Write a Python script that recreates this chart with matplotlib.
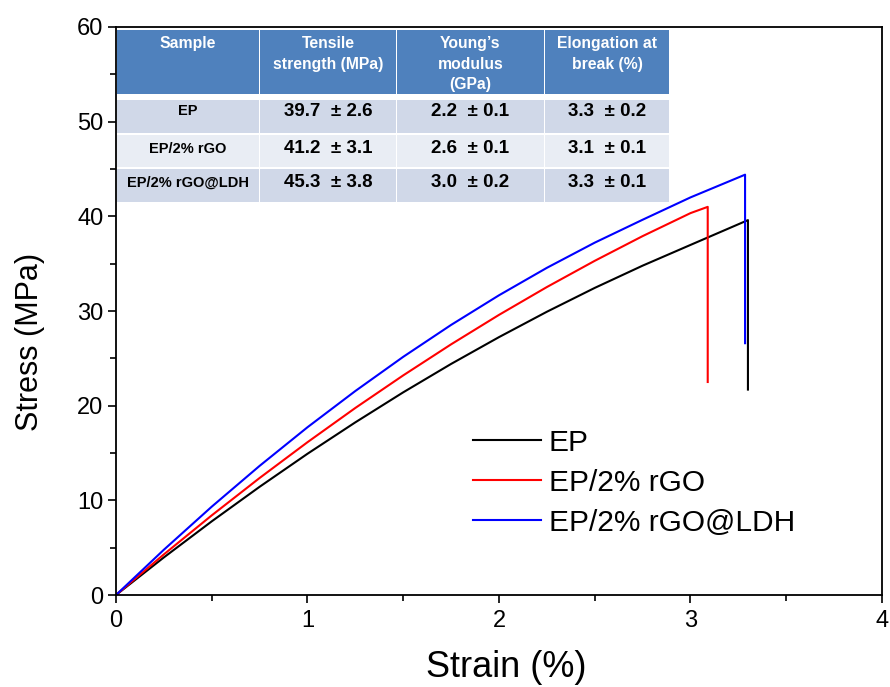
import matplotlib
matplotlib.use("Agg")
import matplotlib.pyplot as plt
from matplotlib.patches import Rectangle
from matplotlib.ticker import MultipleLocator

plt.rcParams["font.family"] = ["Liberation Sans", "DejaVu Sans"]

# stress-strain curves (strain %, stress MPa)
ep_strain = [0, 0.25, 0.5, 0.75, 1.0, 1.25, 1.5, 1.75, 2.0, 2.25, 2.5, 2.75, 3.0, 3.30, 3.30]
ep_stress = [0, 3.97, 7.78, 11.43, 14.92, 18.24, 21.41, 24.41, 27.24, 29.92, 32.44, 34.79, 36.98, 39.6, 21.7]

rgo_strain = [0, 0.25, 0.5, 0.75, 1.0, 1.25, 1.5, 1.75, 2.0, 2.25, 2.5, 2.75, 3.0, 3.09, 3.09]
rgo_stress = [0, 4.29, 8.41, 12.36, 16.14, 19.76, 23.20, 26.48, 29.59, 32.53, 35.30, 37.91, 40.34, 41.0, 22.5]

ldh_strain = [0, 0.25, 0.5, 0.75, 1.0, 1.25, 1.5, 1.75, 2.0, 2.25, 2.5, 2.75, 3.0, 3.285, 3.285]
ldh_stress = [0, 4.78, 9.33, 13.64, 17.72, 21.55, 25.16, 28.53, 31.66, 34.56, 37.22, 39.64, 42.0, 44.4, 26.6]

series_labels = ["EP", "EP/2% rGO", "EP/2% rGO@LDH"]
series_colors = ["black", "red", "blue"]

# inset table
table_header = ["Sample", "Tensile\nstrength (MPa)", "Young\u2019s\nmodulus\n(GPa)", "Elongation at\nbreak (%)"]
table_samples = ["EP", "EP/2% rGO", "EP/2% rGO@LDH"]
tensile = ["39.7  \u00b1 2.6", "41.2  \u00b1 3.1", "45.3  \u00b1 3.8"]
modulus = ["2.2  \u00b1 0.1", "2.6  \u00b1 0.1", "3.0  \u00b1 0.2"]
elongation = ["3.3  \u00b1 0.2", "3.1  \u00b1 0.1", "3.3  \u00b1 0.1"]

fig = plt.figure(figsize=(8.9, 6.87), dpi=100)
ax = fig.add_axes([0.1303, 0.1339, 0.8607, 0.8268])

for xs, ys, lab, col in zip([ep_strain, rgo_strain, ldh_strain],
                            [ep_stress, rgo_stress, ldh_stress],
                            series_labels, series_colors):
    ax.plot(xs, ys, color=col, lw=1.5, label=lab)

ax.set_xlim(0, 4)
ax.set_ylim(0, 60)
ax.xaxis.set_major_locator(MultipleLocator(1))
ax.xaxis.set_minor_locator(MultipleLocator(0.5))
ax.yaxis.set_major_locator(MultipleLocator(10))
ax.yaxis.set_minor_locator(MultipleLocator(5))
ax.tick_params(which="major", direction="out", length=6, width=1.2, labelsize=17)
ax.tick_params(axis="x", which="major", pad=5)
ax.tick_params(axis="y", which="major", pad=3)
ax.tick_params(which="minor", direction="out", length=4, width=1.2)
for s in ax.spines.values():
    s.set_linewidth(1.3)

ax.set_xlabel("Strain (%)", fontsize=26)
ax.set_ylabel("Stress (MPa)", fontsize=22)
ax.xaxis.set_label_coords(0.51, -0.097)
ax.yaxis.set_label_coords(-0.092, 0.445)

ax.legend(loc="upper left", bbox_to_anchor=(0.446, 0.319), frameon=False,
          fontsize=21.5, handlelength=2.3, handletextpad=0.25,
          labelspacing=0.4, borderpad=0)

# table drawn in axes fraction
x0, ax_w = 116, 766.0
y_base, ax_h = 595, 568.0
col_edges = [(117, 259), (260, 396), (397, 544), (545, 669)]
header_rows = (30, 94)
body_rows = [(100, 133), (135, 167), (169, 202)]
text_centers = [111, 148.5, 182.5]
row_colors = ["#D0D8E8", "#E9EDF4", "#D0D8E8"]


def fx(px):
    return (px - x0) / ax_w


def fy(py):
    return (y_base - py) / ax_h


for (c0, c1), txt in zip(col_edges, table_header):
    ax.add_patch(Rectangle((fx(c0), fy(header_rows[1])), fx(c1) - fx(c0),
                           fy(header_rows[0]) - fy(header_rows[1]),
                           transform=ax.transAxes, facecolor="#4F81BD",
                           edgecolor="none", zorder=3))
    ax.text((fx(c0) + fx(c1)) / 2, fy(36.5), txt, transform=ax.transAxes,
            ha="center", va="top", color="white", fontsize=11.3, fontweight="bold",
            linespacing=1.45, zorder=4)

for i, (r0, r1) in enumerate(body_rows):
    cells = [table_samples[i], tensile[i], modulus[i], elongation[i]]
    for j, ((c0, c1), txt) in enumerate(zip(col_edges, cells)):
        ax.add_patch(Rectangle((fx(c0), fy(r1)), fx(c1) - fx(c0), fy(r0) - fy(r1),
                               transform=ax.transAxes, facecolor=row_colors[i],
                               edgecolor="none", zorder=3))
        size = 10.5 if j == 0 else 13.5
        ax.text((fx(c0) + fx(c1)) / 2, fy(text_centers[i]), txt, transform=ax.transAxes,
                ha="center", va="center", color="black", fontsize=size,
                fontweight="bold", zorder=4)

fig.savefig("out.png", dpi=100)
